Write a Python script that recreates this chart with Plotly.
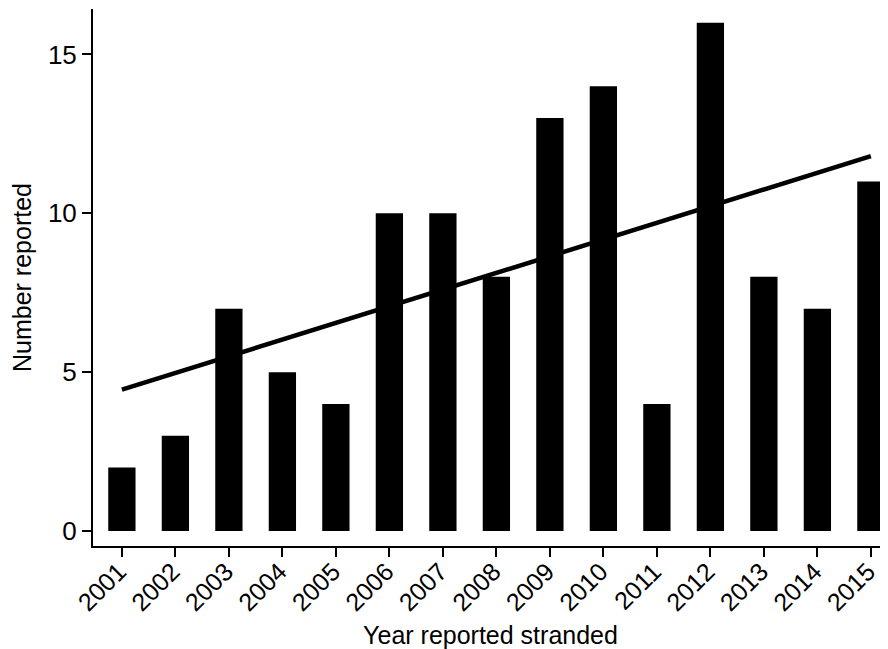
import plotly.graph_objects as go

years = [2001, 2002, 2003, 2004, 2005, 2006, 2007, 2008, 2009, 2010, 2011, 2012, 2013, 2014, 2015]
counts = [2, 3, 7, 5, 4, 10, 10, 8, 13, 14, 4, 16, 8, 7, 11]
trend_years = [2001, 2015]
trend_values = [4.45, 11.8]
y_ticks = [0, 5, 10, 15]

fig = go.Figure()
fig.add_trace(go.Bar(x=years, y=counts, width=0.51, marker=dict(color="black", line=dict(width=0)),
                     showlegend=False))
fig.add_trace(go.Scatter(x=trend_years, y=trend_values, mode="lines",
                         line=dict(color="black", width=4.5), showlegend=False))

font_family = "Liberation Sans, Arial, sans-serif"
# The page body has an 8px margin, so the figure is sized to fill the rest of the window.
fig.update_layout(
    width=880, height=641,
    margin=dict(l=85, r=0, t=1, b=103, autoexpand=False),
    plot_bgcolor="white", paper_bgcolor="white",
    font=dict(family=font_family, color="black", size=25),
    xaxis=dict(
        range=[2000.46, 2015.32], tickvals=years, ticktext=[str(y) for y in years],
        tickangle=-45, ticks="outside", ticklen=9, tickwidth=2, tickcolor="black",
        showline=True, linecolor="black", linewidth=2, showgrid=False, zeroline=False,
        tickfont=dict(size=25), automargin=False, ticklabelstandoff=-10, ticklabelshift=-3,
        title=dict(text="Year reported stranded", font=dict(size=25), standoff=13),
    ),
    yaxis=dict(
        range=[-0.47, 16.43], tickvals=y_ticks, ticks="outside", ticklen=9, tickwidth=2,
        tickcolor="black", showline=True, linecolor="black", linewidth=2,
        showgrid=False, zeroline=False, tickfont=dict(size=26), automargin=False,
        title=dict(text="Number reported", font=dict(size=25), standoff=12),
    ),
)

fig.write_html("out.html")
